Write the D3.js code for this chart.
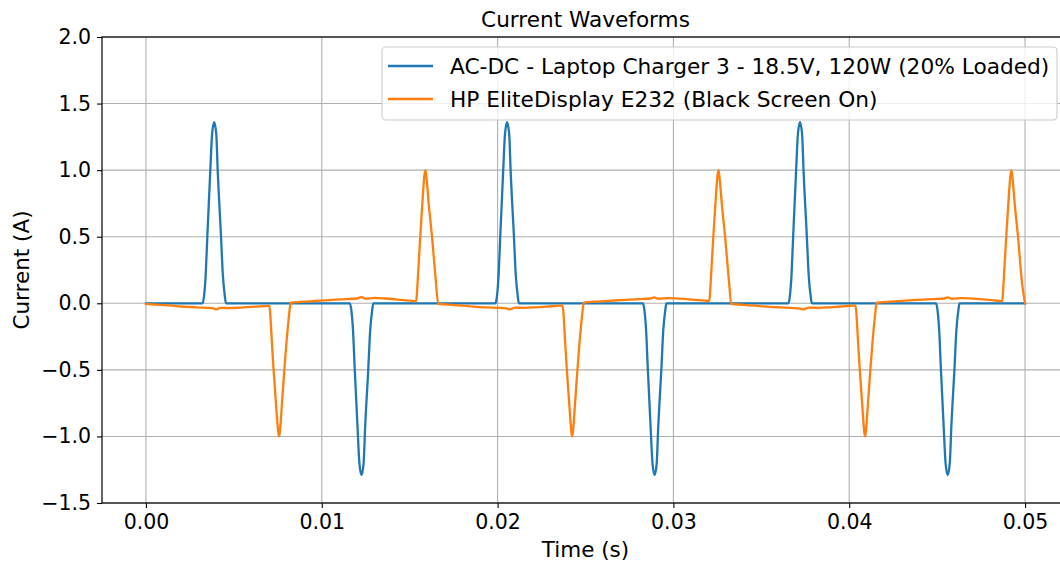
<!DOCTYPE html>
<html>
<head>
<meta charset="utf-8">
<script src="https://cdn.jsdelivr.net/npm/d3@7"></script>
<style>
  html, body { margin: 0; padding: 0; background: #fff; }
  svg { display: block; font-family: "DejaVu Sans", sans-serif; }
</style>
</head>
<body>
<svg id="chart" width="1060" height="565"></svg>
<script>
// Current waveforms over 50 ms (60 Hz mains), sampled [time (s), current (A)]
const chartTitle = "Current Waveforms";
const xLabel = "Time (s)";
const yLabel = "Current (A)";
const seriesNames = [
  "AC-DC - Laptop Charger 3 - 18.5V, 120W (20% Loaded)",
  "HP EliteDisplay E232 (Black Screen On)"
];
const seriesColors = ["#1f77b4", "#ff7f0e"];
const xTicks = [0, 0.01, 0.02, 0.03, 0.04, 0.05];
const yTicks = [-1.5, -1.0, -0.5, 0.0, 0.5, 1.0, 1.5, 2.0];

// Laptop charger: narrow current pulses near each voltage peak
const chargerCurrent = [
  [0.00000, 0], [0.00322, 0],
  [0.00330, 0.05], [0.00340, 0.22], [0.00349, 0.50], [0.00366, 1.00], [0.00376, 1.27],
  [0.00388, 1.36],
  [0.00400, 1.27], [0.00408, 1.00], [0.00427, 0.50], [0.00437, 0.22], [0.00449, 0.05],
  [0.00455, 0], [0.01160, 0],
  [0.01168, -0.05], [0.01178, -0.21], [0.01187, -0.48], [0.01204, -0.95], [0.01214, -1.20],
  [0.01226, -1.29],
  [0.01238, -1.20], [0.01246, -0.95], [0.01265, -0.48], [0.01275, -0.21], [0.01287, -0.05],
  [0.01293, 0], [0.01988, 0],
  [0.01996, 0.05], [0.02006, 0.22], [0.02015, 0.50], [0.02032, 1.00], [0.02042, 1.27],
  [0.02054, 1.36],
  [0.02066, 1.27], [0.02074, 1.00], [0.02093, 0.50], [0.02103, 0.22], [0.02115, 0.05],
  [0.02121, 0], [0.02827, 0],
  [0.02835, -0.05], [0.02845, -0.21], [0.02854, -0.48], [0.02871, -0.95], [0.02881, -1.20],
  [0.02893, -1.29],
  [0.02905, -1.20], [0.02913, -0.95], [0.02932, -0.48], [0.02942, -0.21], [0.02954, -0.05],
  [0.02960, 0], [0.03654, 0],
  [0.03662, 0.05], [0.03672, 0.22], [0.03681, 0.50], [0.03698, 1.00], [0.03708, 1.27],
  [0.03720, 1.36],
  [0.03732, 1.27], [0.03740, 1.00], [0.03759, 0.50], [0.03769, 0.22], [0.03781, 0.05],
  [0.03787, 0], [0.04494, 0],
  [0.04502, -0.05], [0.04512, -0.21], [0.04521, -0.48], [0.04538, -0.95], [0.04548, -1.20],
  [0.04560, -1.29],
  [0.04572, -1.20], [0.04580, -0.95], [0.04599, -0.48], [0.04609, -0.21], [0.04621, -0.05],
  [0.04627, 0], [0.05000, 0]
];

// Monitor: triangular pulses plus a small slow baseline swing
const displayCurrent = [
  [0.00000, -0.005], [0.00080, -0.012], [0.00150, -0.018], [0.00200, -0.024], [0.00260, -0.028],
  [0.00320, -0.033], [0.00380, -0.036], [0.00400, -0.046], [0.00420, -0.035], [0.00480, -0.036],
  [0.00540, -0.032], [0.00600, -0.027], [0.00650, -0.023], [0.00690, -0.020],
  [0.00701, -0.018], [0.00718, -0.33], [0.00726, -0.50], [0.00743, -0.82], [0.00752, -0.96],
  [0.00757, -1.00],
  [0.00762, -0.96], [0.00770, -0.82], [0.00787, -0.50], [0.00797, -0.33], [0.00815, -0.075],
  [0.00823, 0.005],
  [0.00850, 0.008], [0.00900, 0.012], [0.00960, 0.017], [0.01020, 0.022], [0.01080, 0.027],
  [0.01140, 0.031], [0.01200, 0.036], [0.01225, 0.046], [0.01250, 0.035], [0.01300, 0.040],
  [0.01360, 0.036], [0.01420, 0.030], [0.01480, 0.022], [0.01520, 0.018],
  [0.01536, 0.015], [0.01549, 0.25], [0.01560, 0.50], [0.01572, 0.75], [0.01583, 0.95],
  [0.01589, 1.00],
  [0.01595, 0.95], [0.01608, 0.75], [0.01627, 0.50], [0.01650, 0.15], [0.01662, -0.005],
  [0.01700, -0.008], [0.01760, -0.014], [0.01820, -0.020], [0.01880, -0.027], [0.01940, -0.031],
  [0.02000, -0.034], [0.02050, -0.038], [0.02070, -0.046], [0.02100, -0.033], [0.02160, -0.034],
  [0.02220, -0.030], [0.02280, -0.025], [0.02340, -0.019],
  [0.02369, -0.017], [0.02386, -0.33], [0.02394, -0.50], [0.02411, -0.82], [0.02419, -0.96],
  [0.02424, -1.00],
  [0.02429, -0.96], [0.02437, -0.82], [0.02454, -0.50], [0.02464, -0.33], [0.02482, -0.075],
  [0.02490, 0.005],
  [0.02520, 0.009], [0.02570, 0.013], [0.02630, 0.018], [0.02690, 0.023], [0.02750, 0.028],
  [0.02810, 0.032], [0.02870, 0.036], [0.02890, 0.044], [0.02915, 0.034], [0.02970, 0.039],
  [0.03030, 0.035], [0.03090, 0.030], [0.03150, 0.023], [0.03190, 0.019],
  [0.03203, 0.015], [0.03216, 0.25], [0.03227, 0.50], [0.03239, 0.75], [0.03250, 0.95],
  [0.03256, 1.00],
  [0.03262, 0.95], [0.03275, 0.75], [0.03294, 0.50], [0.03317, 0.15], [0.03329, -0.005],
  [0.03370, -0.009], [0.03430, -0.015], [0.03490, -0.021], [0.03550, -0.027], [0.03610, -0.031],
  [0.03670, -0.035], [0.03715, -0.038], [0.03740, -0.045], [0.03770, -0.033], [0.03830, -0.034],
  [0.03890, -0.030], [0.03950, -0.024], [0.04010, -0.019],
  [0.04035, -0.017], [0.04052, -0.33], [0.04060, -0.50], [0.04077, -0.82], [0.04085, -0.96],
  [0.04090, -1.00],
  [0.04095, -0.96], [0.04103, -0.82], [0.04120, -0.50], [0.04130, -0.33], [0.04148, -0.075],
  [0.04156, 0.005],
  [0.04190, 0.008], [0.04240, 0.013], [0.04300, 0.018], [0.04360, 0.023], [0.04420, 0.028],
  [0.04480, 0.032], [0.04540, 0.036], [0.04560, 0.045], [0.04585, 0.034], [0.04640, 0.039],
  [0.04700, 0.035], [0.04760, 0.029], [0.04820, 0.022], [0.04855, 0.018],
  [0.04869, 0.015], [0.04882, 0.25], [0.04893, 0.50], [0.04905, 0.75], [0.04916, 0.95],
  [0.04922, 1.00],
  [0.04928, 0.95], [0.04941, 0.75], [0.04960, 0.50], [0.04983, 0.15], [0.05000, 0.0]
];

const series = [chargerCurrent, displayCurrent];

const svg = d3.select("#chart");
const plot = { left: 102, top: 37, right: 1069, bottom: 503 };

const x = d3.scaleLinear().domain([-0.0025, 0.0525]).range([plot.left, plot.right]);
const y = d3.scaleLinear().domain([-1.5, 2.0]).range([plot.bottom, plot.top]);

// grid
const grid = svg.append("g").attr("stroke", "#b0b0b0").attr("stroke-width", 1.1);
grid.selectAll(".gx").data(xTicks).join("line")
  .attr("x1", d => x(d)).attr("x2", d => x(d))
  .attr("y1", plot.top).attr("y2", plot.bottom);
grid.selectAll(".gy").data(yTicks).join("line")
  .attr("x1", plot.left).attr("x2", plot.right)
  .attr("y1", d => y(d)).attr("y2", d => y(d));

// series lines
const line = d3.line()
  .x(d => x(d[0])).y(d => y(d[1]))
  .curve(d3.curveMonotoneX);
svg.append("g").selectAll("path").data(series).join("path")
  .attr("d", line)
  .attr("fill", "none")
  .attr("stroke", (d, i) => seriesColors[i])
  .attr("stroke-width", 2.3)
  .attr("stroke-linejoin", "round")
  .attr("stroke-linecap", "square");

// axes
const xAxis = d3.axisBottom(x).tickValues(xTicks).tickFormat(d3.format(".2f"))
  .tickSize(5).tickPadding(6);
const yAxis = d3.axisLeft(y).tickValues(yTicks).tickFormat(d => d3.format(".1f")(d).replace("-", "\u2212"))
  .tickSize(5).tickPadding(6);

const gx = svg.append("g").attr("transform", `translate(0,${plot.bottom})`).call(xAxis);
const gy = svg.append("g").attr("transform", `translate(${plot.left},0)`).call(yAxis);
[gx, gy].forEach(g => {
  g.select(".domain").remove();
  g.selectAll(".tick line").attr("stroke", "#000").attr("stroke-width", 1.1);
  g.selectAll(".tick text").attr("fill", "#000").attr("font-size", 20.5)
    .attr("font-family", "DejaVu Sans, sans-serif");
});

// spines
const spines = svg.append("g").attr("stroke", "#000").attr("stroke-width", 1.2).attr("fill", "none");
spines.append("rect")
  .attr("x", plot.left).attr("y", plot.top)
  .attr("width", plot.right - plot.left).attr("height", plot.bottom - plot.top);

// title and axis labels
svg.append("text").attr("x", (plot.left + plot.right) / 2).attr("y", 27)
  .attr("text-anchor", "middle").attr("font-size", 21.6).attr("fill", "#000").text(chartTitle);
svg.append("text").attr("x", (plot.left + plot.right) / 2).attr("y", 557)
  .attr("text-anchor", "middle").attr("font-size", 21.5).attr("fill", "#000").text(xLabel);
svg.append("text")
  .attr("transform", `translate(29,${(plot.top + plot.bottom) / 2}) rotate(-90)`)
  .attr("text-anchor", "middle").attr("font-size", 21.5).attr("fill", "#000").text(yLabel);

// legend
const legend = svg.append("g");
legend.append("rect")
  .attr("x", 382).attr("y", 47).attr("width", 675).attr("height", 73).attr("rx", 4)
  .attr("fill", "#fff").attr("fill-opacity", 0.8)
  .attr("stroke", "#cccccc").attr("stroke-width", 1.1);
const rows = legend.selectAll("g.row").data(seriesNames).join("g")
  .attr("transform", (d, i) => `translate(0,${66 + i * 33})`);
rows.append("line").attr("x1", 388).attr("x2", 433)
  .attr("stroke", (d, i) => seriesColors[i]).attr("stroke-width", 2.3);
rows.append("text").attr("x", 450).attr("y", 8)
  .attr("font-size", 21.7).attr("fill", "#000").text(d => d);
</script>
</body>
</html>
